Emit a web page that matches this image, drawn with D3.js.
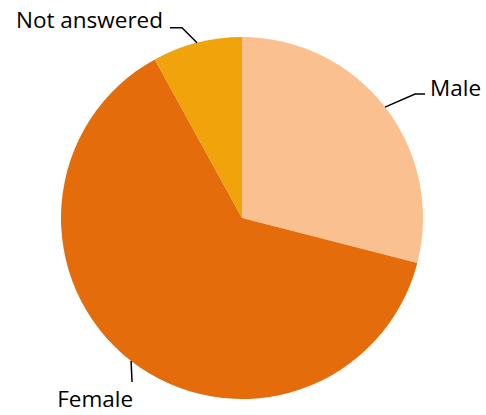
<!DOCTYPE html>
<html>
<head>
<meta charset="utf-8">
<script src="https://cdn.jsdelivr.net/npm/d3@7"></script>
<style>
  html, body { margin: 0; padding: 0; background: #fff; }
  svg text { font-family: "Open Sans", "Noto Sans", sans-serif; fill: #000; }
</style>
</head>
<body>
<svg id="chart" width="486" height="415"></svg>
<script>
// Respondents by gender (percent)
const categories = ["Male", "Female", "Not answered"];
const values = [29, 63, 8];
const colors = ["#FAC090", "#E46C0A", "#F0A30A"];

const width = 486, height = 415;
const cx = 242, cy = 218, radius = 181;

const svg = d3.select("#chart");
const g = svg.append("g").attr("transform", `translate(${cx},${cy})`);

const data = categories.map((c, i) => ({ name: c, value: values[i], color: colors[i] }));

const pie = d3.pie().value(d => d.value).sort(null);
const arc = d3.arc().innerRadius(0).outerRadius(radius);
const arcs = pie(data);

g.selectAll("path.slice")
  .data(arcs)
  .enter().append("path")
  .attr("class", "slice")
  .attr("d", arc)
  .attr("fill", d => d.data.color);

// Leader line layout per label: elbow offset from the slice edge, horizontal run, text placement
const labelLayout = {
  "Male":         { elbow: [30, -13],  run: 10,  anchor: "start", gap: 5,  dy: 2 },
  "Female":       { elbow: [1, 21],    run: 0,   anchor: "end",   gap: 1,  dy: 25 },
  "Not answered": { elbow: [-15, -15], run: -12, anchor: "end",   gap: -7, dy: 0 }
};

arcs.forEach(a => {
  const mid = (a.startAngle + a.endAngle) / 2;
  const p0 = [Math.sin(mid) * radius, -Math.cos(mid) * radius];
  const L = labelLayout[a.data.name];
  const p1 = [p0[0] + L.elbow[0], p0[1] + L.elbow[1]];
  const p2 = [p1[0] + L.run, p1[1]];
  g.append("polyline")
    .attr("points", [p0, p1, p2].map(p => p.join(",")).join(" "))
    .attr("fill", "none")
    .attr("stroke", "#000")
    .attr("stroke-width", 1.5);
  g.append("text")
    .attr("x", p2[0] + L.gap)
    .attr("y", p2[1] + L.dy)
    .attr("text-anchor", L.anchor)
    .attr("font-size", 22.5)
    .text(a.data.name);
});
</script>
</body>
</html>
